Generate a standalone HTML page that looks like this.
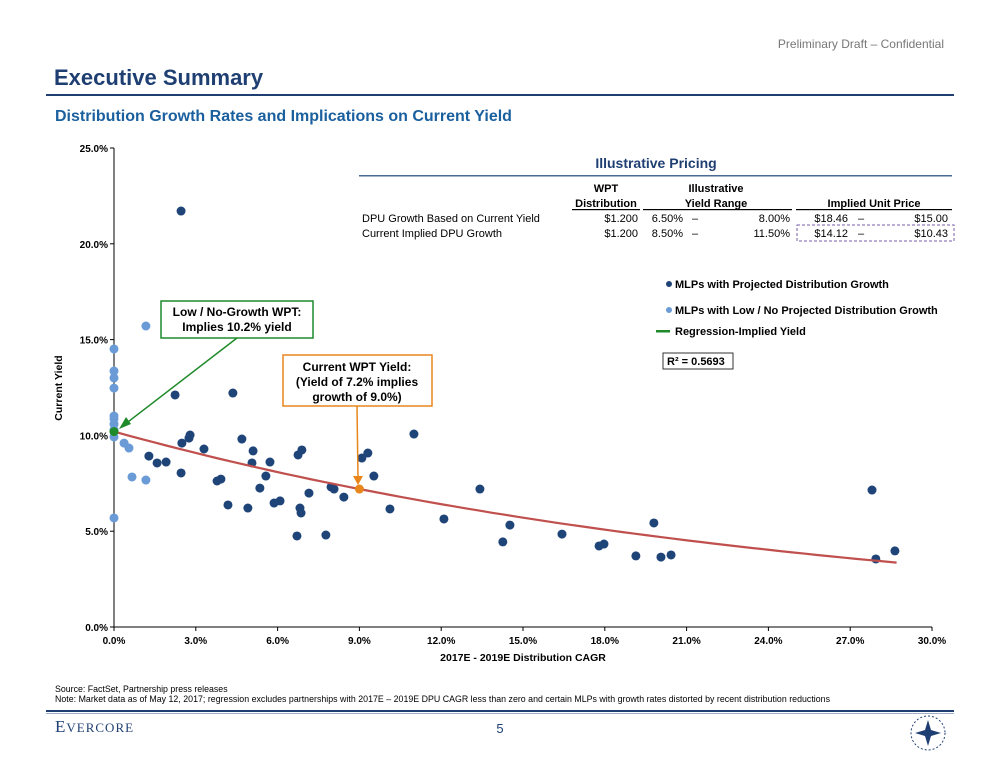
<!DOCTYPE html>
<html><head><meta charset="utf-8"><style>
body{margin:0;background:#fff;}
svg{display:block;font-family:"Liberation Sans",Arial,sans-serif;}
</style></head><body>
<svg id="pg" width="1000" height="774" viewBox="0 0 1000 774" xmlns="http://www.w3.org/2000/svg">
<text x="944" y="48" text-anchor="end" font-size="12" fill="#777">Preliminary Draft – Confidential</text>
<text x="54" y="85" font-size="22" font-weight="bold" fill="#1f3f73">Executive Summary</text>
<rect x="46" y="94" width="908" height="2" fill="#1f3f73"/>
<text x="55" y="121" font-size="16" font-weight="bold" fill="#1a5f9e">Distribution Growth Rates and Implications on Current Yield</text>

<g id="axes"></g>
<g id="marks"></g>

<g font-size="11" fill="#000">
<text x="656" y="168" text-anchor="middle" font-size="14" font-weight="bold" fill="#1f3f73">Illustrative Pricing</text>
<rect x="359" y="175" width="593" height="1.5" fill="#4a6b95"/>
<g font-weight="bold" text-anchor="middle">
<text x="606" y="192">WPT</text><text x="606" y="207">Distribution</text>
<text x="716" y="192">Illustrative</text><text x="716" y="207">Yield Range</text>
<text x="874" y="207">Implied Unit Price</text>
</g>
<rect x="572" y="209" width="68" height="1.2" fill="#000"/>
<rect x="643" y="209" width="149" height="1.2" fill="#000"/>
<rect x="796" y="209" width="156" height="1.2" fill="#000"/>
<text x="362" y="222">DPU Growth Based on Current Yield</text>
<text x="638" y="222" text-anchor="end">$1.200</text>
<text x="683" y="222" text-anchor="end">6.50%</text><text x="692" y="222">–</text>
<text x="790" y="222" text-anchor="end">8.00%</text>
<text x="848" y="222" text-anchor="end">$18.46</text><text x="858" y="222">–</text>
<text x="948" y="222" text-anchor="end">$15.00</text>
<text x="362" y="237">Current Implied DPU Growth</text>
<text x="638" y="237" text-anchor="end">$1.200</text>
<text x="683" y="237" text-anchor="end">8.50%</text><text x="692" y="237">–</text>
<text x="790" y="237" text-anchor="end">11.50%</text>
<text x="848" y="237" text-anchor="end">$14.12</text><text x="858" y="237">–</text>
<text x="948" y="237" text-anchor="end">$10.43</text>
<rect x="797" y="225" width="157" height="16" fill="none" stroke="#7a5ea8" stroke-dasharray="3,2" stroke-width="1"/>
</g>

<g font-size="11" font-weight="bold">
<g><circle cx="669" cy="284" r="3" fill="#1f4478"/><text x="675" y="288">MLPs with Projected Distribution Growth</text></g>
<g><circle cx="669" cy="310" r="3" fill="#6b9bd6"/><text x="675" y="314">MLPs with Low / No Projected Distribution Growth</text></g>
<g><rect x="656" y="330" width="14" height="2.5" fill="#1f8a2a"/><text x="675" y="335">Regression-Implied Yield</text></g>
<rect x="663" y="353" width="70" height="16" fill="#fff" stroke="#333"/>
<text x="667" y="365">R² = 0.5693</text>
</g>

<g>
<rect x="161" y="301" width="152" height="37" fill="#fff" stroke="#1f8a2a" stroke-width="1.5"/>
<text x="237" y="316" text-anchor="middle" font-size="12" font-weight="bold">Low / No-Growth WPT:</text>
<text x="237" y="331" text-anchor="middle" font-size="12" font-weight="bold">Implies 10.2% yield</text>
<line x1="237" y1="338" x2="124" y2="425" stroke="#1f8a2a" stroke-width="1.5"/>
<polygon points="119,429 126,417 131,424" fill="#1f8a2a"/>
</g>
<g>
<rect x="283" y="355" width="149" height="51" fill="#fff" stroke="#e8861c" stroke-width="1.5"/>
<text x="357" y="371" text-anchor="middle" font-size="12" font-weight="bold">Current WPT Yield:</text>
<text x="357" y="386" text-anchor="middle" font-size="12" font-weight="bold">(Yield of 7.2% implies</text>
<text x="357" y="401" text-anchor="middle" font-size="12" font-weight="bold">growth of 9.0%)</text>
<line x1="357" y1="406" x2="358" y2="478" stroke="#e8861c" stroke-width="1.5"/>
<polygon points="353,476 363,476 358,485" fill="#e8861c"/>
</g>

<text x="55" y="692" font-size="8.8" fill="#000">Source: FactSet, Partnership press releases</text>
<text x="55" y="702" font-size="8.8" fill="#000" textLength="775">Note: Market data as of May 12, 2017; regression excludes partnerships with 2017E – 2019E DPU CAGR less than zero and certain MLPs with growth rates distorted by recent distribution reductions</text>
<rect x="46" y="710" width="908" height="2" fill="#1f3f73"/>
<rect x="46" y="713" width="908" height="1" fill="#9fb0c8"/>
<text x="55" y="732" font-family="Liberation Serif,serif" font-size="17" fill="#1f3f73" letter-spacing="1">E<tspan font-size="13">VERCORE</tspan></text>
<text x="500" y="733" text-anchor="middle" font-size="13" fill="#1f3f73">5</text>
<g><circle cx="928" cy="733" r="17" fill="none" stroke="#1f3f73" stroke-dasharray="2,2"/><polygon points="928,720 931,730 941,733 931,736 928,746 925,736 915,733 925,730" fill="#1f3f73"/></g>
</svg>
<script>
const xTicks=[0,3,6,9,12,15,18,21,24,27,30];
const yTicks=[0,5,10,15,20,25];
const growthX=[2.46,2.24,2.49,2.75,2.79,3.30,1.28,1.58,1.91,2.46,3.78,3.92,4.18,4.91,4.69,5.10,5.06,5.35,5.57,5.72,5.87,6.09,6.71,6.75,6.89,6.82,6.86,7.15,7.77,7.96,8.07,8.43,9.09,9.31,9.53,10.12,11.00,12.10,13.42,14.26,14.52,16.43,17.79,17.97,19.14,19.80,20.06,20.43,27.80,27.94,28.64,4.36];
const growthY=[21.71,12.11,9.60,9.86,10.02,9.29,8.92,8.56,8.61,8.04,7.62,7.72,6.37,6.21,9.81,9.19,8.56,7.25,7.88,8.61,6.47,6.58,4.75,8.98,9.24,6.21,5.95,6.99,4.80,7.31,7.20,6.78,8.82,9.08,7.88,6.16,10.07,5.64,7.20,4.44,5.32,4.85,4.23,4.33,3.71,5.43,3.65,3.76,7.15,3.55,3.97,12.21];
const lowX=[1.17,0,0,0,0,0,0,0,0,0,0.37,0.55,0.66,1.17,0];
const lowY=[15.71,14.51,13.36,13.0,12.47,11.01,10.86,10.59,10.28,9.92,9.60,9.34,7.83,7.67,5.69];
const regA=[10.2];
const regB=[-0.0387];
const regRange=[0,28.7];
const wptLow=[0,10.2];
const wptCurrent=[9.0,7.2];

const NS="http://www.w3.org/2000/svg";
const X0=114,X1=932,Y0=627,Y1=148;
const sx=v=>X0+(v-0)/(30-0)*(X1-X0);
const sy=v=>Y0-(v-0)/(25-0)*(Y0-Y1);
function mk(tag,attrs,parent,txt){const e=document.createElementNS(NS,tag);for(const k in attrs)e.setAttribute(k,attrs[k]);if(txt!==undefined)e.textContent=txt;parent.appendChild(e);return e;}
const ax=document.getElementById('axes'),mg=document.getElementById('marks');
let e=mk('line',{x1:X0,y1:Y0,x2:X1,y2:Y0,stroke:'#000','stroke-width':1},ax);


e=mk('line',{x1:X0,y1:Y0,x2:X0,y2:Y1,stroke:'#000','stroke-width':1},ax);


xTicks.forEach(t=>{mk('line',{x1:sx(t),y1:Y0,x2:sx(t),y2:Y0+4,stroke:'#000'},ax);
 e=mk('text',{x:sx(t),y:Y0+17,'text-anchor':'middle','font-size':10,'font-weight':'bold'},ax,t.toFixed(1)+'%');
 
 });
yTicks.forEach(t=>{mk('line',{x1:X0-4,y1:sy(t),x2:X0,y2:sy(t),stroke:'#000'},ax);
 e=mk('text',{x:X0-6,y:sy(t)+4,'text-anchor':'end','font-size':10,'font-weight':'bold'},ax,t.toFixed(1)+'%');
 
 });
e=mk('text',{x:523,y:661,'text-anchor':'middle','font-size':10.5,'font-weight':'bold'},ax,'2017E - 2019E Distribution CAGR');


e=mk('text',{x:62,y:388,'text-anchor':'middle','font-size':10.5,'font-weight':'bold',transform:'rotate(-90 62 388)'},ax,'Current Yield');


lowX.forEach((x,i)=>{e=mk('circle',{cx:sx(x),cy:sy(lowY[i]),r:4.5,fill:'#6b9bd6'},mg);
 
 });
growthX.forEach((x,i)=>{e=mk('circle',{cx:sx(x),cy:sy(growthY[i]),r:4.5,fill:'#1f4478'},mg);
 
 });
let d='';for(let k=0;k<=60;k++){const x=regRange[0]+(regRange[1]-regRange[0])*k/60;d+=(k?'L':'M')+sx(x).toFixed(1)+','+sy(regA[0]*Math.exp(regB[0]*x)).toFixed(1);}
e=mk('path',{d:d,fill:'none',stroke:'#c0504d','stroke-width':2.2},mg);


e=mk('circle',{cx:sx(wptLow[0]),cy:sy(wptLow[1]),r:4.5,fill:'#1f8a2a'},mg);


e=mk('circle',{cx:sx(wptCurrent[0]),cy:sy(wptCurrent[1]),r:4.5,fill:'#e8861c'},mg);


</script>
</body></html>
